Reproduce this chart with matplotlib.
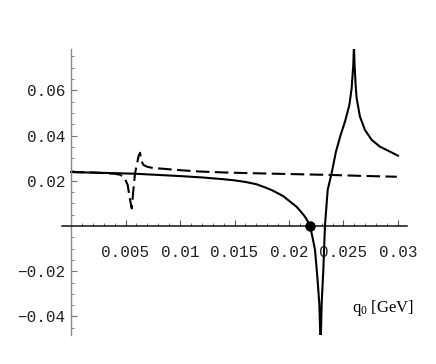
import matplotlib
matplotlib.use("Agg")
import matplotlib.pyplot as plt

plt.rcParams["mathtext.fontset"] = "custom"
plt.rcParams["mathtext.rm"] = "Liberation Serif"
plt.rcParams["mathtext.it"] = "Liberation Serif"

# ---- data ----
solid_x = [0.0, 0.002, 0.004, 0.006, 0.008, 0.010, 0.012, 0.013, 0.014, 0.0150,
           0.0160, 0.0170, 0.01780, 0.0185, 0.01948, 0.0201, 0.0207, 0.0211, 0.02147,
           0.0217, 0.02193, 0.02215, 0.02239, 0.0226, 0.02278, 0.02287, 0.0229,
           0.02293, 0.0230, 0.02315, 0.0233, 0.02355, 0.02391, 0.02431, 0.02474,
           0.02514, 0.02554, 0.02575, 0.0259, 0.02596, 0.02602, 0.02612, 0.02621,
           0.02651, 0.02697, 0.02759, 0.02835, 0.02927, 0.0300]
solid_y = [0.0239, 0.0236, 0.0234, 0.0231, 0.0226, 0.0221, 0.0215, 0.0211, 0.0207, 0.0202,
           0.0195, 0.0185, 0.0171, 0.0157, 0.0132, 0.0108, 0.0085, 0.0063, 0.0041,
           0.0022, 0.0, -0.0048, -0.0106, -0.0224, -0.0342, -0.0475, -0.0520,
           -0.0475, -0.0342, -0.0195, 0.0, 0.0160, 0.0233, 0.0329, 0.0403,
           0.0462, 0.0535, 0.0609, 0.0712, 0.0800, 0.0712, 0.0620, 0.0565,
           0.0484, 0.0425, 0.0381, 0.0351, 0.0329, 0.0311]

dash_x = [0.0, 0.002, 0.004, 0.0045, 0.0049, 0.0052, 0.0054, 0.00557,
          0.0057, 0.00587, 0.00603, 0.0062, 0.00633, 0.0065, 0.00664, 0.0070,
          0.0075, 0.0085, 0.010, 0.0118, 0.0146, 0.019, 0.0238, 0.0265, 0.0299]
dash_y = [0.0239, 0.0237, 0.0231, 0.0227, 0.0214, 0.0181, 0.0120, 0.0078,
          0.0150, 0.0233, 0.0270, 0.0310, 0.0324, 0.0285, 0.0270, 0.0262,
          0.0257, 0.0253, 0.0247, 0.0241, 0.0236, 0.0231, 0.0226, 0.0222, 0.0218]

point_x = [0.02193]
point_y = [0.0]

x_major = [0.005, 0.01, 0.015, 0.02, 0.025, 0.03]
x_labels = ["0.005", "0.01", "0.015", "0.02", "0.025", "0.03"]
y_major = [-0.04, -0.02, 0.02, 0.04, 0.06]
y_labels = ["-0.04", "-0.02", "0.02", "0.04", "0.06"]

# ---- figure ----
W, H = 436, 364
fig = plt.figure(figsize=(W / 100, H / 100), dpi=100)
ax = fig.add_axes([62 / W, (H - 335) / H, 345 / W, 286 / H])
ax.set_xlim(-0.00083, 0.03083)
ax.set_ylim(-0.0482, 0.0783)

ax.plot(solid_x, solid_y, color="black", lw=1.5, solid_joinstyle="round")
dl, = ax.plot(dash_x, dash_y, color="black", lw=1.5)
dl.set_dashes((6.5, 2.6))
ax.plot(point_x, point_y, "o", color="black", ms=6.5, zorder=5)

for s in ["top", "right"]:
    ax.spines[s].set_visible(False)
ax.spines["left"].set_position(("data", 0))
ax.spines["bottom"].set_position(("data", 0))
ax.spines["left"].set_color("#8a8a8a")
ax.spines["left"].set_linewidth(1.0)
ax.spines["bottom"].set_color("#111111")
ax.spines["bottom"].set_linewidth(1.1)

ax.set_xticks(x_major)
ax.set_xticklabels(x_labels)
ax.set_yticks(y_major)
ax.set_yticklabels([l.replace("-", "\u2212") for l in y_labels])

x_minor = [i / 1000 for i in range(1, 30) if i % 5 != 0]
y_minor = [i / 1000 for i in range(-45, 80, 5) if i % 20 != 0]
ax.set_xticks(x_minor, minor=True)
ax.set_yticks(y_minor, minor=True)

for lab in ax.get_xticklabels() + ax.get_yticklabels():
    lab.set_fontfamily("Liberation Mono")
    lab.set_fontsize(11.5)
    lab.set_color("#222222")

ax.tick_params(axis="x", which="major", direction="in", length=4, width=0.8,
               color="#555555", pad=14)
ax.tick_params(axis="x", which="minor", direction="in", length=2, width=0.6,
               color="#555555")
ax.tick_params(axis="y", which="major", direction="in", length=4, width=0.8,
               color="#777777", pad=4)
ax.tick_params(axis="y", which="minor", direction="in", length=2, width=0.6,
               color="#777777")

fig.text(352 / W, 1 - 308 / H, r"$\mathrm{q}_\mathrm{0}$ [GeV]",
         family="Liberation Serif", fontsize=12, ha="left", va="center")

fig.savefig("out.png", dpi=100)
